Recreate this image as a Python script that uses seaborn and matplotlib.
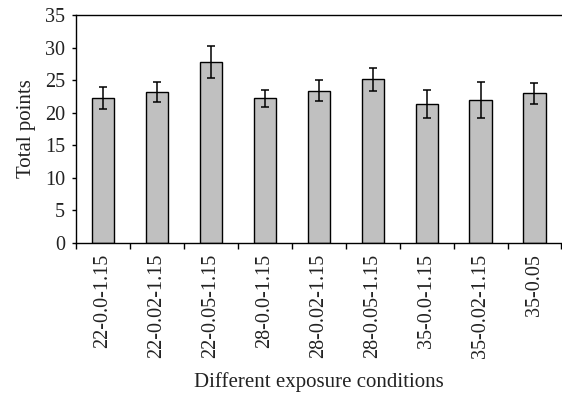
import matplotlib
matplotlib.use("Agg")
import matplotlib.pyplot as plt
import seaborn as sns
import pandas as pd
import numpy as np

categories = ["22-0.0-1.15", "22-0.02-1.15", "22-0.05-1.15", "28-0.0-1.15",
              "28-0.02-1.15", "28-0.05-1.15", "35-0.0-1.15", "35-0.02-1.15", "35-0.05"]
means = [22.3, 23.15, 27.85, 22.2, 23.4, 25.1, 21.4, 21.95, 22.95]
errors = [1.7, 1.5, 2.45, 1.35, 1.55, 1.7, 2.15, 2.7, 1.6]

sns.set_theme(style="white")
plt.rcParams['font.family'] = ['Liberation Serif', 'DejaVu Serif']
plt.rcParams['text.color'] = '#222222'

df = pd.DataFrame({"cond": categories, "val": means})

fig = plt.figure(figsize=(5.62, 3.94), dpi=100)
ax = fig.add_axes([76/562, 1-243/394, 1-76/562-0.001, (243-15)/394])
sns.barplot(data=df, x="cond", y="val", color="#c0c0c0", edgecolor="black",
            linewidth=1.0, width=0.41, saturation=1, errorbar=None, ax=ax)
ax.errorbar(np.arange(len(categories)), means, yerr=errors, fmt="none",
            ecolor="black", elinewidth=1.1, capsize=3.2, capthick=1.1)

ax.set_xlim(-0.5, len(categories) - 0.5)
ax.set_ylim(0, 35)
ax.set_yticks(range(0, 36, 5))
ax.set_xticks(np.arange(len(categories)))
ax.set_xticklabels(categories, rotation=90, fontsize=14.5)
ax.set_xticks(np.arange(len(categories) + 1) - 0.5, minor=True)
ax.tick_params(axis="x", which="major", length=0, pad=8, labelcolor="#222222")
ax.tick_params(axis="x", which="minor", length=4, width=1, color="black", direction="out", bottom=True)
ax.tick_params(axis="y", length=3, width=1, color="black", direction="out", left=True,
               labelsize=14.5, pad=5, labelcolor="#222222")
for s in ["left", "bottom", "top"]:
    ax.spines[s].set_visible(True)
    ax.spines[s].set_color("black")
    ax.spines[s].set_linewidth(1.0)
ax.spines["right"].set_visible(False)
ax.set_xlabel("Different exposure conditions", fontsize=15, labelpad=10, color="#222222")
ax.set_ylabel("Total points", fontsize=15, labelpad=6, color="#222222")

fig.savefig("out.png", dpi=100)
